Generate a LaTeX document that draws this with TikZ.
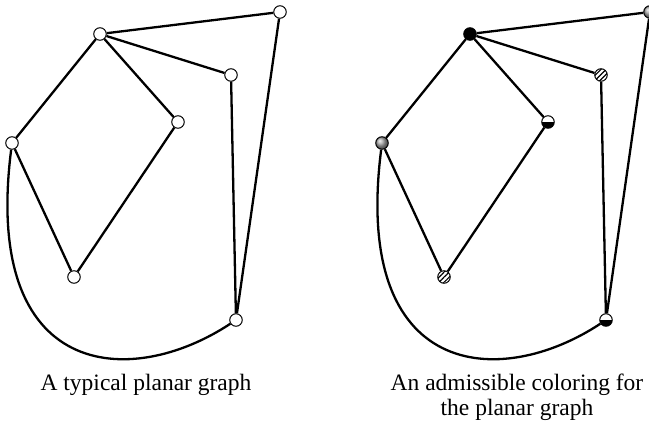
\documentclass[tikz,border=0pt]{standalone}
\usepackage{fontspec}
\setmainfont{Liberation Serif}
\usetikzlibrary{patterns.meta,shadings}

\tikzset{
  vtx/.style={circle, draw, line width=1pt, fill=white, minimum size=12.5pt, inner sep=0pt},
  blackv/.style={vtx, fill=black},
  ballv/.style={vtx, ball color=gray!70},
  hatchv/.style={vtx, preaction={fill=white}, pattern={Lines[angle=45,distance=3.6pt,line width=1.2pt]}},
  halfv/.style={vtx, path picture={\fill[black] (path picture bounding box.west) rectangle (path picture bounding box.south east);}},
  edge/.style={line width=2.3pt},
  captext/.style={font=\fontsize{23.5}{25}\selectfont, align=center, inner sep=0pt},
}

\begin{document}
\begin{tikzpicture}[x=1pt, y=-1pt]
  \useasboundingbox (0,0) rectangle (649,426);

  % typical planar graph
  \node[vtx] (a1) at (100,34) {};
  \node[vtx] (b1) at (280,12) {};
  \node[vtx] (c1) at (231,75) {};
  \node[vtx] (d1) at (178,122) {};
  \node[vtx] (e1) at (12,143) {};
  \node[vtx] (f1) at (74,277) {};
  \node[vtx] (g1) at (236,320) {};

  \draw[edge] (a1) -- (b1) (a1) -- (c1) (a1) -- (d1) (a1) -- (e1);
  \draw[edge] (d1) -- (f1) (e1) -- (f1) (c1) -- (g1) (b1) -- (g1);
  \draw[edge] (e1) .. controls +(-30,237) and +(-106,70) .. (g1);

  % coloured copy
  \node[blackv] (a2) at (470,34) {};
  \node[ballv] (b2) at (650,12) {};
  \node[hatchv] (c2) at (601,75) {};
  \node[halfv] (d2) at (548,122) {};
  \node[ballv] (e2) at (382,143) {};
  \node[hatchv] (f2) at (444,277) {};
  \node[halfv] (g2) at (606,320) {};

  \draw[edge] (a2) -- (b2) (a2) -- (c2) (a2) -- (d2) (a2) -- (e2);
  \draw[edge] (d2) -- (f2) (e2) -- (f2) (c2) -- (g2) (b2) -- (g2);
  \draw[edge] (e2) .. controls +(-30,237) and +(-106,70) .. (g2);

  \node[captext, anchor=base] (capl) at (146,390) {A typical planar graph};
  \node[captext, anchor=north] (capr) at (capl.north -| 517,0) {An admissible coloring for\\the planar graph};
\end{tikzpicture}
\end{document}
